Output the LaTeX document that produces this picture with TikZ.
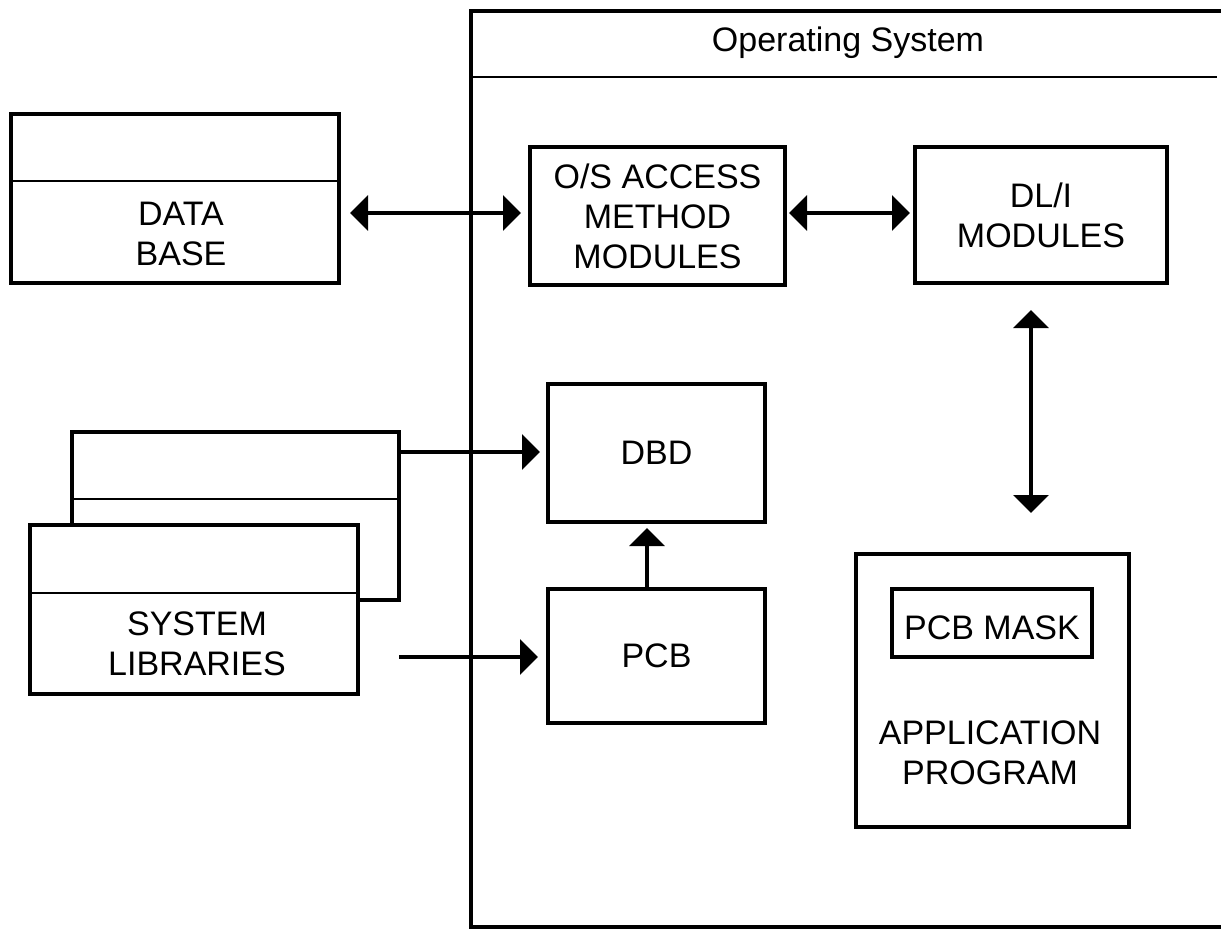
\documentclass[tikz,border=0pt]{standalone}
\usepackage{fontspec}
\setmainfont{Liberation Sans}
\usepackage{tikz}
\usetikzlibrary{
	arrows.meta,
	calc,
	}

\tikzset{
	box/.style={draw, line width=4pt, inner sep=0pt, align=center, font=\fontsize{34}{40}\selectfont},
	txt/.style={inner sep=0pt, align=center, font=\fontsize{34}{40}\selectfont},
	sep/.style={line width=2pt},
	link/.style={line width=3.5pt, -{Triangle[length=18pt,width=35pt]}},
	bilink/.style={line width=3.5pt, {Triangle[length=18pt,width=35pt]}-{Triangle[length=18pt,width=35pt]}},
}

\begin{document}
\begin{tikzpicture}[x=1pt, y=-1pt]
		\useasboundingbox (0,0) rectangle (1221,929);
		% operating system frame, open to the right
		\draw[line width=4pt] (1240,11) -| (471,927) -- (1240,927);
		\draw[sep] (471,77) -- (1217,77);
		\node[txt] (os) at (848,43) {Operating System};

		% data base
		\node[box, minimum width=328pt, minimum height=169pt] (db) at (175,198.5) {};
		\draw[sep] (db.west |- 0,181) -- (db.east |- 0,181);
		\node[txt] (dbtxt) at (181,234) {DATA\\BASE};

		% system libraries, two stacked files
		\node[box, minimum width=327pt, minimum height=168pt] (libback) at (235.5,516) {};
		\draw[sep] (libback.west |- 0,499) -- (libback.east |- 0,499);
		\node[box, fill=white, minimum width=328pt, minimum height=169pt] (lib) at (194,609.5) {};
		\draw[sep] (lib.west |- 0,593) -- (lib.east |- 0,593);
		\node[txt] (libtxt) at (197,644) {SYSTEM\\LIBRARIES};
		\coordinate (libout) at (399,657);

		% modules inside the o/s
		\node[box, minimum width=255pt, minimum height=138pt] (acc) at (657.5,216) {O/S ACCESS\\METHOD\\MODULES};
		\node[box, minimum width=252pt, minimum height=136pt] (dli) at (1041,215) {DL/I\\MODULES};
		\node[box, minimum width=217pt, minimum height=138pt] (dbd) at (656.5,453) {DBD};
		\node[box, minimum width=217pt, minimum height=134pt] (pcb) at (656.5,656) {PCB};

		% application program
		\node[box, minimum width=273pt, minimum height=273pt] (app) at (992.5,690.5) {};
		\node[box, minimum width=200pt, minimum height=68pt] (mask) at (992,623) {};
		\node[txt] (masktxt) at (992,628) {PCB MASK};
		\node[txt] (apptxt) at (990,753) {APPLICATION\\PROGRAM};

		\draw[bilink, shorten <=9pt, shorten >=7pt] (db.east |- 0,213) -- (acc.west |- 0,213);
		\draw[bilink, shorten <=2pt, shorten >=3pt] (acc.east |- 0,213) -- (dli.west |- 0,213);
		\draw[bilink, shorten <=25pt, shorten >=39pt] (dli.south -| 1031,0) -- (app.north -| 1031,0);
		\draw[link, shorten >=6pt] (libback.east |- 0,452) -- (dbd.west |- 0,452);
		\draw[link, shorten >=8pt] (libout) -- (pcb.west |- libout);
		\draw[link, shorten >=4pt] (pcb.north -| 647,0) -- (dbd.south -| 647,0);
	\end{tikzpicture}
\end{document}
